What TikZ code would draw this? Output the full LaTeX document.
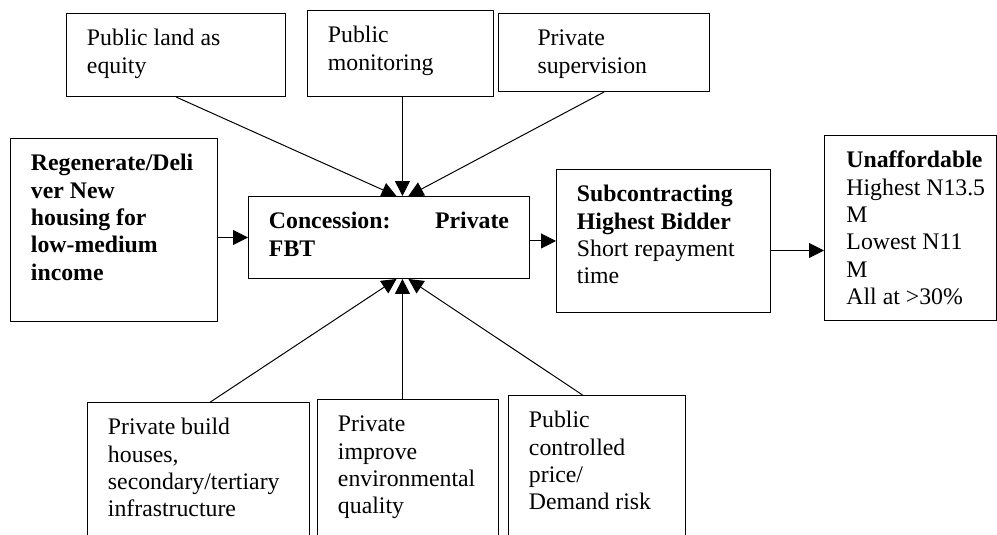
\documentclass[tikz,border=0pt]{standalone}
\usepackage{fontspec}
\setmainfont{Liberation Serif}
\usetikzlibrary{arrows.meta}

\begin{document}
\begin{tikzpicture}[x=0.505pt,y=-0.505pt,
  box/.style={draw,line width=0.5pt,anchor=north west,align=flush left,inner xsep=10.35pt,inner ysep=0pt,text height=16.4pt,font=\fontsize{12}{13.8}\selectfont},
  arr/.style={line width=0.5pt,-{Triangle[length=7.5pt,width=7.5pt]}}
]
\useasboundingbox (0,0) rectangle (997,534);

\node[box,text width=89.9pt,text depth=25.5pt] (land) at (66,13) {Public land as\\equity};
\node[box,text width=73.2pt,text depth=27pt] (monit) at (307,10) {Public\\monitoring};
\node[box,inner xsep=19.7pt,text width=67.2pt,text depth=23pt] (superv) at (498,13) {Private\\supervision};

\node[box,text width=83.8pt,text depth=76pt] (regen) at (10,138) {\bfseries Regenerate/Deli\\ver New\\housing for\\low-medium\\income};
\node[box,text width=121.2pt,text depth=25pt] (conc) at (248,196) {\bfseries Concession:\hfill Private\\FBT};
\node[box,text width=87.4pt,text depth=55.8pt] (subc) at (556,169) {\textbf{Subcontracting}\\\textbf{Highest Bidder}\\Short repayment\\time};
\node[box,inner xsep=11.1pt,text width=64.7pt,text depth=77pt] (unaff) at (824,135) {\mbox{\textbf{Unaffordable}}\\\mbox{Highest N13.5}\\M\\Lowest N11\\M\\All at >30\%};

\node[box,text width=91.4pt,text depth=70pt] (build) at (87,402) {Private build\\houses,\\secondary/tertiary\\infrastructure};
\node[box,text width=70.7pt,text depth=70pt] (improve) at (317,399) {Private\\improve\\environmental\\quality};
\node[box,text width=68.7pt,text depth=70pt] (pubctrl) at (508,395) {Public\\controlled\\price/\\Demand risk};

\coordinate (tin) at ([xshift=6.8pt]conc.north);
\coordinate (bin) at ([xshift=6.8pt]conc.south);

\draw[arr] (land.south) -- ([xshift=-3pt]tin);
\draw[arr] (tin |- monit.south) -- (tin);
\draw[arr] (superv.south) -- ([xshift=3pt]tin);
\draw[arr] (regen.east |- conc.west) -- (conc.west);
\draw[arr] (conc.east |- subc.west) -- (subc.west);
\draw[arr] ([yshift=-4.8pt]subc.east) -- ([yshift=-4.8pt]subc.east -| unaff.west);
\draw[arr] ([xshift=6pt]build.north) -- ([xshift=-3pt]bin);
\draw[arr] (bin |- improve.north) -- (bin);
\draw[arr] ([xshift=-7.3pt]pubctrl.north) -- ([xshift=3pt]bin);
\end{tikzpicture}
\end{document}
